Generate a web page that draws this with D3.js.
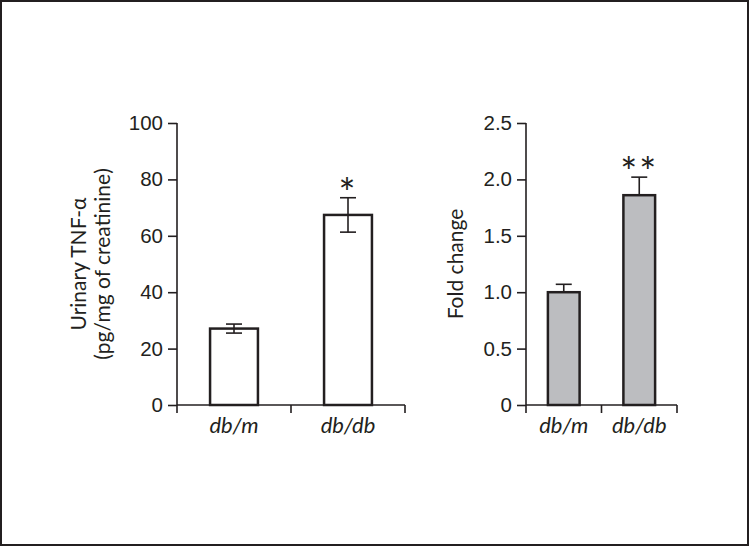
<!DOCTYPE html>
<html>
<head>
<meta charset="utf-8">
<script src="https://cdn.jsdelivr.net/npm/d3@7"></script>
<style>
  html, body { margin: 0; padding: 0; background: #fff; }
  svg { display: block; font-family: "Lato", "Open Sans", sans-serif; }
</style>
</head>
<body>
<div id="chart"></div>
<script>
const groups = ["db/m", "db/db"];
// left panel: urinary TNF-alpha
const tnfValues = [27.1, 67.4];
const tnfErrors = [1.6, 6.1];
const tnfMarks = ["", "*"];
const tnfTicks = [0, 20, 40, 60, 80, 100];
// right panel: fold change
const foldValues = [1.0, 1.86];
const foldErrors = [0.07, 0.16];
const foldMarks = ["", "**"];
const foldTicks = [0, 0.5, 1.0, 1.5, 2.0, 2.5];

const width = 749, height = 546;
const ink = "#231f20";

let svg = d3.select("#chart").append("svg")
    .attr("width", width)
    .attr("height", height);

// outer frame
svg.append("rect")
    .attr("x", 1).attr("y", 1)
    .attr("width", width - 2).attr("height", height - 2)
    .attr("fill", "none").attr("stroke", ink).attr("stroke-width", 2);

function panel(opt) {
    const y = d3.scaleLinear().domain([0, opt.ymax]).range([405, 123]);
    const x = d3.scaleBand().domain(groups).range([opt.x0, opt.x1])
        .paddingInner(0.58).paddingOuter(0.29);
    const g = svg.append("g");

    // y axis
    const yAxis = d3.axisLeft(y).tickValues(opt.ticks).tickSize(9).tickPadding(5)
        .tickFormat(opt.fmt);
    const ya = g.append("g").attr("transform", "translate(" + opt.x0 + ",0)").call(yAxis);
    ya.select(".domain").attr("d", "M0," + y(opt.ymax) + "V" + y(0));
    ya.selectAll("line, path").attr("stroke", ink).attr("stroke-width", 1.6);
    ya.selectAll("text").attr("fill", ink).style("font-size", "20.5px")
        .style("font-family", "inherit");

    // x axis: line with ticks at the ends and between the groups
    const edges = [opt.x0, (x("db/m") + x.bandwidth() + x("db/db")) / 2, opt.x1];
    g.append("line")
        .attr("x1", opt.x0).attr("x2", opt.x1)
        .attr("y1", y(0)).attr("y2", y(0))
        .attr("stroke", ink).attr("stroke-width", 1.6);
    g.selectAll(".xtick").data(edges).enter().append("line")
        .attr("x1", d => d).attr("x2", d => d)
        .attr("y1", y(0)).attr("y2", y(0) + 8)
        .attr("stroke", ink).attr("stroke-width", 1.6);
    g.selectAll(".xlab").data(groups).enter().append("text")
        .attr("x", d => x(d) + x.bandwidth() / 2)
        .attr("y", 433)
        .attr("text-anchor", "middle")
        .style("font-size", "22px").style("font-style", "italic")
        .attr("fill", ink)
        .text(d => d);

    // bars
    g.selectAll(".bar").data(opt.values).enter().append("rect")
        .attr("x", (d, i) => x(groups[i]))
        .attr("y", d => y(d))
        .attr("width", x.bandwidth())
        .attr("height", d => y(0) - y(d))
        .attr("fill", opt.fill)
        .attr("stroke", ink).attr("stroke-width", 2.5);

    // error bars
    const cap = 8;
    opt.values.forEach(function (v, i) {
        const cx = x(groups[i]) + x.bandwidth() / 2;
        const lo = opt.twoSided ? v - opt.errors[i] : v;
        const hi = v + opt.errors[i];
        g.append("line")
            .attr("x1", cx).attr("x2", cx)
            .attr("y1", y(lo)).attr("y2", y(hi))
            .attr("stroke", ink).attr("stroke-width", 1.6);
        g.append("line")
            .attr("x1", cx - cap).attr("x2", cx + cap)
            .attr("y1", y(hi)).attr("y2", y(hi))
            .attr("stroke", ink).attr("stroke-width", 1.6);
        if (opt.twoSided) {
            g.append("line")
                .attr("x1", cx - cap).attr("x2", cx + cap)
                .attr("y1", y(lo)).attr("y2", y(lo))
                .attr("stroke", ink).attr("stroke-width", 1.6);
        }
        if (opt.marks[i]) {
            g.append("text")
                .attr("x", cx)
                .attr("y", y(hi) + 10)
                .attr("text-anchor", "middle")
                .style("font-size", "40px")
                .style("letter-spacing", "2px")
                .attr("fill", ink)
                .text(opt.marks[i]);
        }
    });

    // y title
    const t = g.append("text")
        .attr("transform", "translate(" + opt.titleX + ",264) rotate(-90)")
        .attr("text-anchor", "middle")
        .style("font-size", "21px")
        .attr("fill", ink);
    opt.title.forEach(function (line, i) {
        t.append("tspan").attr("x", 0).attr("dy", i === 0 ? 0 : 24).text(line);
    });
}

panel({
    x0: 177, x1: 405, ymax: 100, ticks: tnfTicks, fmt: d3.format("d"),
    values: tnfValues, errors: tnfErrors, marks: tnfMarks,
    fill: "#ffffff", twoSided: true,
    title: ["Urinary TNF-\u03b1", "(pg/mg of creatinine)"], titleX: 86
});

panel({
    x0: 526, x1: 677, ymax: 2.5, ticks: foldTicks,
    fmt: d => d === 0 ? "0" : d3.format(".1f")(d),
    values: foldValues, errors: foldErrors, marks: foldMarks,
    fill: "#bcbdc0", twoSided: false,
    title: ["Fold change"], titleX: 463
});
</script>
</body>
</html>
